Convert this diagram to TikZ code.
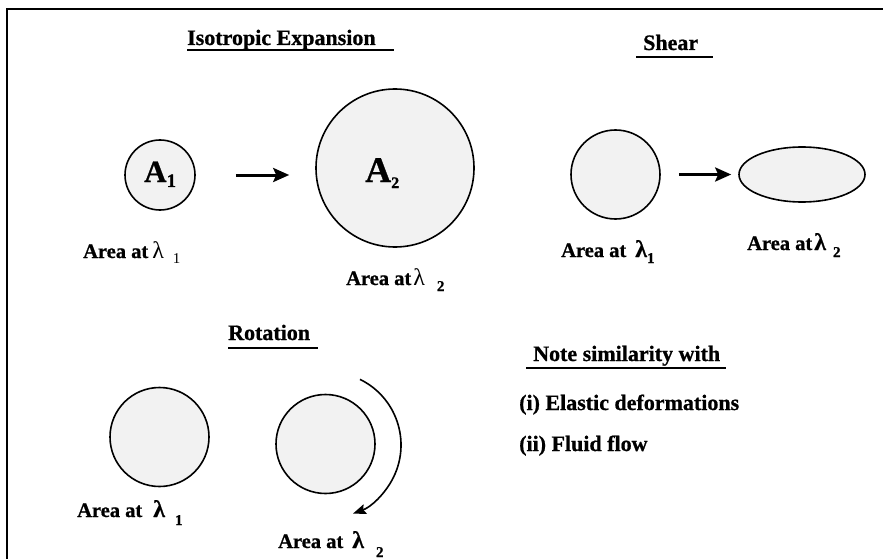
\documentclass[tikz,border=0pt]{standalone}
\usepackage{fontspec}
\setmainfont{Liberation Serif}[BoldFeatures={FakeBold=0.8}]
\usetikzlibrary{arrows.meta,shapes.geometric,calc}
\definecolor{shapefill}{HTML}{F2F2F2}
\tikzset{
  title/.style={font=\bfseries\fontsize{22}{22}\selectfont, inner sep=0pt, anchor=base west},
  lbl/.style={font=\bfseries\fontsize{20.5}{20.5}\selectfont, inner sep=0pt, anchor=base west},
  uline/.style={line width=2pt},
  blob/.style={circle, draw=black, line width=1.6pt, fill=shapefill, inner sep=0pt},
  bigarrow/.style={line width=3pt, -{Stealth[length=16pt,width=14pt,inset=3pt]}},
  rotarrow/.style={line width=1.6pt, -{Stealth[length=13pt,width=10pt,inset=2pt]}},
}
\newcommand\subsz[2]{\raisebox{-#1}{\fontsize{15}{15}\selectfont #2}}
\begin{document}
\begin{tikzpicture}[x=1pt,y=-1pt]
\useasboundingbox (0,0) rectangle (883,559);
% frame
\draw[line width=2.5pt] (7,559) -- (7,9) -- (883,9);

% ---------- Isotropic expansion ----------
\node[title] (isoT) at (187,45) {Isotropic Expansion};
\draw[uline] (isoT.base west) ++(0,5.5) coordinate (isoU1) -- ++(207,0) coordinate (isoU2);

\node[blob, minimum size=70pt] (c1) at (160,175) {};
\node[inner sep=0pt, anchor=base west] (a1) at (144,182) {\bfseries\fontsize{31}{31}\selectfont A\raisebox{-5pt}{\fontsize{19}{19}\selectfont 1}};
\node[blob, minimum size=158pt] (c2) at (395,168) {};
\node[inner sep=0pt, anchor=base west] (a2) at (365,182) {\bfseries\fontsize{36}{36}\selectfont A\raisebox{-6pt}{\fontsize{16}{16}\selectfont 2}};
\draw[bigarrow, shorten <=40pt, shorten >=26pt] (c1.east) -- (c1.east -| c2.west);

\node[lbl] (l1) at (83,258) {Area at\hspace{4pt}{\mdseries\fontsize{24}{24}\selectfont λ}\hspace{9pt}\subsz{5pt}{\mdseries 1}};
\node[lbl] (l2) at (346,285) {Area at\hspace{2pt}{\mdseries\fontsize{24}{24}\selectfont λ}\hspace{12pt}\subsz{6pt}{2}};

% ---------- Shear ----------
\node[title] (shT) at (643,50) {Shear};
\draw[uline] ($(shT.base west)+(-7,7)$) coordinate (shU1) -- ++(77,0) coordinate (shU2);
\node[blob, minimum size=89pt] (c3) at (615.5,174.5) {};
\node[ellipse, draw=black, line width=1.6pt, fill=shapefill, inner sep=0pt, minimum width=126pt, minimum height=55pt] (e1) at (802,174.5) {};
\draw[bigarrow, shorten <=18pt, shorten >=7pt] (c3.east) -- (c3.east -| e1.west);
\node[lbl] (l3) at (561,257) {Area at\hspace{9pt}{\fontsize{24}{24}\selectfont λ}\subsz{6pt}{1}};
\node[lbl] (l4) at (747,250) {Area at\hspace{2pt}{\fontsize{24}{24}\selectfont λ}\hspace{7pt}\subsz{7pt}{2}};

% ---------- Rotation ----------
\node[title] (roT) at (228,340) {Rotation};
\draw[uline] ($(roT.base west)+(0,8)$) coordinate (roU1) -- ++(90,0) coordinate (roU2);
\node[blob, minimum size=99pt] (r1) at (159.5,437) {};
\node[blob, minimum size=99pt] (r2) at (325.5,444) {};
\draw[rotarrow] ($(r2.center)+(2.5,1)+(-64:73)$) arc[start angle=-64, end angle=70, radius=73];
\node[lbl] (l5) at (77,517) {Area at\hspace{11pt}{\fontsize{24}{24}\selectfont λ}\hspace{10pt}\subsz{8pt}{1}};
\node[lbl] (l6) at (278,548) {Area at\hspace{9pt}{\fontsize{24}{24}\selectfont λ}\hspace{12pt}\subsz{9pt}{2}};

% ---------- Note ----------
\node[title] (noT) at (533,361) {Note similarity with};
\draw[uline] ($(noT.base west)+(-7,7)$) coordinate (noU1) -- ++(200,0) coordinate (noU2);
\node[title] (n1) at (519,410) {(i) Elastic deformations};
\node[title] (n2) at (519,451) {(ii) Fluid flow};
\end{tikzpicture}
\end{document}
